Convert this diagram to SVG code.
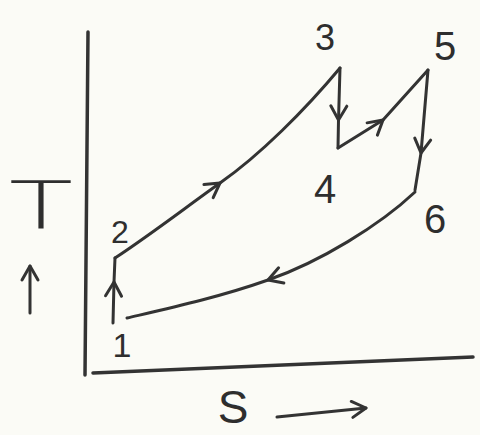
<svg xmlns="http://www.w3.org/2000/svg" width="480" height="435" viewBox="0 0 480 435">
  <defs>
    <marker id="chev" markerUnits="userSpaceOnUse" markerWidth="34" markerHeight="34" viewBox="-17 -17 34 34" refX="0" refY="0" orient="auto">
      <path d="M-14,-8 L0,0 L-14,8" fill="none" stroke="#333" stroke-width="3" stroke-linecap="round" stroke-linejoin="round"/>
    </marker>
    <style>
      .ln { fill: none; stroke: #333; stroke-width: 3; stroke-linecap: round; stroke-linejoin: round; }
      .ax { fill: none; stroke: #333; stroke-width: 3.5; stroke-linecap: round; }
      .lbl { font-family: "Liberation Sans", Arial, sans-serif; fill: #2e2e2e; text-anchor: middle; }
      .thin { font-family: "DejaVu Sans ExtraLight", "DejaVu Sans", sans-serif; font-weight: 200; fill: #2e2e2e; }
    </style>
  </defs>
  <rect x="0" y="0" width="480" height="435" fill="#fbfbf6"/>

  <g id="axes">
    <path class="ax" d="M88,32 L85,375"/>
    <path class="ax" d="M93,373 L473,357"/>
    <text class="thin" x="9" y="229" font-size="66" textLength="64" lengthAdjust="spacingAndGlyphs">T</text>
    <path class="ln" d="M30,313 L30,266" stroke-width="4" marker-end="url(#chev)"/>
    <text class="lbl" x="233" y="423" font-size="46">S</text>
    <path class="ln" d="M277,417 L366,408" marker-end="url(#chev)"/>
  </g>

  <g id="connectors">
    <path class="ln" d="M113,323 L114,282 L115,258" marker-mid="url(#chev)"/>
    <path class="ln" d="M115,258 C150,235 185,208 220,183 C260,155 305,110 340,68" marker-mid="url(#chev)"/>
    <path class="ln" d="M340,68 L338.5,120 L338,148" marker-mid="url(#chev)"/>
    <path class="ln" d="M338,148 L383,120 L428,70" marker-mid="url(#chev)"/>
    <path class="ln" d="M428,70 L421,153 L415,190" marker-mid="url(#chev)"/>
    <path class="ln" d="M415,192 C380,225 320,262 268,280 C220,297 170,308 127,318" marker-mid="url(#chev)"/>
  </g>

  <g id="node1"><text class="lbl" x="122" y="357" font-size="34">1</text></g>
  <g id="node2"><text class="lbl" x="120" y="243" font-size="32">2</text></g>
  <g id="node3"><text class="lbl" x="325" y="50" font-size="36">3</text></g>
  <g id="node4"><text class="lbl" x="325" y="203" font-size="40">4</text></g>
  <g id="node5"><text class="lbl" x="445" y="60" font-size="40">5</text></g>
  <g id="node6"><text class="lbl" x="435" y="233" font-size="40">6</text></g>
</svg>
